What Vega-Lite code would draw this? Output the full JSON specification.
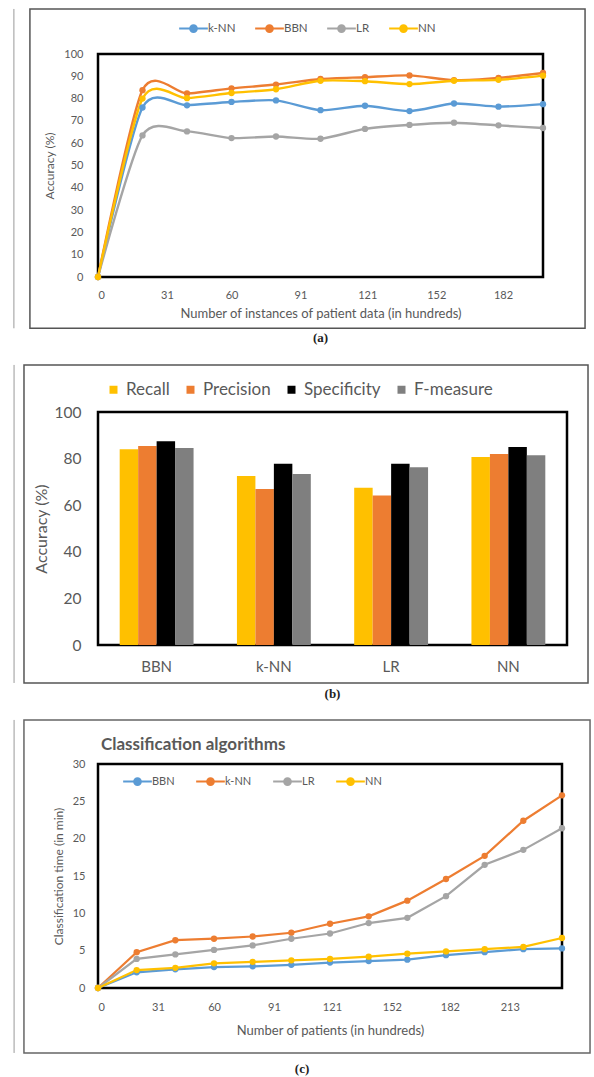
{
  "$schema": "https://vega.github.io/schema/vega-lite/v6.json",
  "background": "white",
  "padding": {"left": 12, "top": 6, "right": 2, "bottom": 0},
  "spacing": 15,
  "resolve": {"scale": {"color": "independent"}, "legend": {"color": "independent"}},
  "title": {"text": "(c)", "orient": "bottom", "anchor": "middle", "font": "Liberation Serif", "fontSize": 13, "fontWeight": "bold", "color": "#222222", "offset": 8},
  "datasets": {
    "acc": [
      {"n": 0, "algo": "k-NN", "acc": 0}, {"n": 20, "algo": "k-NN", "acc": 76}, {"n": 40, "algo": "k-NN", "acc": 77}, {"n": 60, "algo": "k-NN", "acc": 78.5}, {"n": 80, "algo": "k-NN", "acc": 79.2}, {"n": 100, "algo": "k-NN", "acc": 74.8}, {"n": 120, "algo": "k-NN", "acc": 76.8}, {"n": 140, "algo": "k-NN", "acc": 74.4}, {"n": 160, "algo": "k-NN", "acc": 77.8}, {"n": 180, "algo": "k-NN", "acc": 76.4}, {"n": 200, "algo": "k-NN", "acc": 77.5},
      {"n": 0, "algo": "BBN", "acc": 0}, {"n": 20, "algo": "BBN", "acc": 83.8}, {"n": 40, "algo": "BBN", "acc": 82.3}, {"n": 60, "algo": "BBN", "acc": 84.6}, {"n": 80, "algo": "BBN", "acc": 86.3}, {"n": 100, "algo": "BBN", "acc": 88.8}, {"n": 120, "algo": "BBN", "acc": 89.6}, {"n": 140, "algo": "BBN", "acc": 90.4}, {"n": 160, "algo": "BBN", "acc": 88.3}, {"n": 180, "algo": "BBN", "acc": 89.3}, {"n": 200, "algo": "BBN", "acc": 91.5},
      {"n": 0, "algo": "LR", "acc": 0}, {"n": 20, "algo": "LR", "acc": 63.5}, {"n": 40, "algo": "LR", "acc": 65.3}, {"n": 60, "algo": "LR", "acc": 62.3}, {"n": 80, "algo": "LR", "acc": 63}, {"n": 100, "algo": "LR", "acc": 62}, {"n": 120, "algo": "LR", "acc": 66.4}, {"n": 140, "algo": "LR", "acc": 68.2}, {"n": 160, "algo": "LR", "acc": 69.2}, {"n": 180, "algo": "LR", "acc": 68}, {"n": 200, "algo": "LR", "acc": 66.8},
      {"n": 0, "algo": "NN", "acc": 0}, {"n": 20, "algo": "NN", "acc": 80}, {"n": 40, "algo": "NN", "acc": 80.2}, {"n": 60, "algo": "NN", "acc": 82.5}, {"n": 80, "algo": "NN", "acc": 84.2}, {"n": 100, "algo": "NN", "acc": 88}, {"n": 120, "algo": "NN", "acc": 87.8}, {"n": 140, "algo": "NN", "acc": 86.5}, {"n": 160, "algo": "NN", "acc": 88}, {"n": 180, "algo": "NN", "acc": 88.4}, {"n": 200, "algo": "NN", "acc": 90.3}
    ],
    "bars": [
      {"algo": "BBN", "metric": "Recall", "value": 84}, {"algo": "BBN", "metric": "Precision", "value": 85.4}, {"algo": "BBN", "metric": "Specificity", "value": 87.5}, {"algo": "BBN", "metric": "F-measure", "value": 84.6},
      {"algo": "k-NN", "metric": "Recall", "value": 72.5}, {"algo": "k-NN", "metric": "Precision", "value": 67}, {"algo": "k-NN", "metric": "Specificity", "value": 77.8}, {"algo": "k-NN", "metric": "F-measure", "value": 73.4},
      {"algo": "LR", "metric": "Recall", "value": 67.5}, {"algo": "LR", "metric": "Precision", "value": 64.2}, {"algo": "LR", "metric": "Specificity", "value": 77.8}, {"algo": "LR", "metric": "F-measure", "value": 76.3},
      {"algo": "NN", "metric": "Recall", "value": 80.7}, {"algo": "NN", "metric": "Precision", "value": 82}, {"algo": "NN", "metric": "Specificity", "value": 85}, {"algo": "NN", "metric": "F-measure", "value": 81.4}
    ],
    "time": [
      {"n": 0, "algo": "BBN", "t": 0}, {"n": 20, "algo": "BBN", "t": 2.1}, {"n": 40, "algo": "BBN", "t": 2.5}, {"n": 60, "algo": "BBN", "t": 2.8}, {"n": 80, "algo": "BBN", "t": 2.9}, {"n": 100, "algo": "BBN", "t": 3.1}, {"n": 120, "algo": "BBN", "t": 3.4}, {"n": 140, "algo": "BBN", "t": 3.6}, {"n": 160, "algo": "BBN", "t": 3.8}, {"n": 180, "algo": "BBN", "t": 4.4}, {"n": 200, "algo": "BBN", "t": 4.8}, {"n": 220, "algo": "BBN", "t": 5.2}, {"n": 240, "algo": "BBN", "t": 5.3},
      {"n": 0, "algo": "k-NN", "t": 0}, {"n": 20, "algo": "k-NN", "t": 4.8}, {"n": 40, "algo": "k-NN", "t": 6.4}, {"n": 60, "algo": "k-NN", "t": 6.6}, {"n": 80, "algo": "k-NN", "t": 6.9}, {"n": 100, "algo": "k-NN", "t": 7.4}, {"n": 120, "algo": "k-NN", "t": 8.6}, {"n": 140, "algo": "k-NN", "t": 9.6}, {"n": 160, "algo": "k-NN", "t": 11.7}, {"n": 180, "algo": "k-NN", "t": 14.6}, {"n": 200, "algo": "k-NN", "t": 17.7}, {"n": 220, "algo": "k-NN", "t": 22.4}, {"n": 240, "algo": "k-NN", "t": 25.8},
      {"n": 0, "algo": "LR", "t": 0}, {"n": 20, "algo": "LR", "t": 3.9}, {"n": 40, "algo": "LR", "t": 4.5}, {"n": 60, "algo": "LR", "t": 5.1}, {"n": 80, "algo": "LR", "t": 5.7}, {"n": 100, "algo": "LR", "t": 6.6}, {"n": 120, "algo": "LR", "t": 7.3}, {"n": 140, "algo": "LR", "t": 8.7}, {"n": 160, "algo": "LR", "t": 9.4}, {"n": 180, "algo": "LR", "t": 12.3}, {"n": 200, "algo": "LR", "t": 16.5}, {"n": 220, "algo": "LR", "t": 18.5}, {"n": 240, "algo": "LR", "t": 21.4},
      {"n": 0, "algo": "NN", "t": 0}, {"n": 20, "algo": "NN", "t": 2.4}, {"n": 40, "algo": "NN", "t": 2.7}, {"n": 60, "algo": "NN", "t": 3.3}, {"n": 80, "algo": "NN", "t": 3.5}, {"n": 100, "algo": "NN", "t": 3.7}, {"n": 120, "algo": "NN", "t": 3.9}, {"n": 140, "algo": "NN", "t": 4.2}, {"n": 160, "algo": "NN", "t": 4.6}, {"n": 180, "algo": "NN", "t": 4.9}, {"n": 200, "algo": "NN", "t": 5.2}, {"n": 220, "algo": "NN", "t": 5.5}, {"n": 240, "algo": "NN", "t": 6.7}
    ]
  },
  "vconcat": [
    {
      "width": 445,
      "height": 223,
      "title": {"text": "(a)", "orient": "bottom", "font": "Liberation Serif", "fontSize": 13, "fontWeight": "bold", "color": "#222222", "offset": 3},
      "layer": [
        {
          "data": {"name": "acc"},
          "encoding": {
            "x": {"field": "n", "type": "quantitative", "scale": {"domain": [0, 200], "nice": false},
              "axis": {"values": [0, 31, 60, 91, 121, 152, 182], "title": "Number of instances of patient data (in hundreds)", "labelFontSize": 11, "titleFontSize": 13, "labelPadding": 12, "titlePadding": 7}},
            "y": {"field": "acc", "type": "quantitative", "scale": {"domain": [0, 100], "nice": false},
              "axis": {"values": [0, 10, 20, 30, 40, 50, 60, 70, 80, 90, 100], "title": "Accuracy (%)", "labelFontSize": 11, "titleFontSize": 12, "labelPadding": 15, "titlePadding": 7}},
            "color": {"field": "algo", "type": "nominal",
              "scale": {"domain": ["k-NN", "BBN", "LR", "NN"], "range": ["#5B9BD5", "#ED7D31", "#A5A5A5", "#FFC000"]},
              "legend": {"orient": "none", "legendX": 84, "legendY": -37, "direction": "horizontal", "title": null,
                "symbolType": "M-1.4,0H1.4M-0.33,0A0.33,0.33 0 1,0 0.33,0A0.33,0.33 0 1,0 -0.33,0", "symbolSize": 420, "symbolStrokeWidth": 2,
                "labelFontSize": 11.5, "columnPadding": 15, "labelOffset": 3}}
          },
          "layer": [
            {"mark": {"type": "line", "interpolate": "cardinal", "tension": 0.25, "strokeWidth": 2.4}},
            {"mark": {"type": "point", "filled": true, "size": 40, "opacity": 1}}
          ]
        },
        {
          "data": {"values": [{}]},
          "mark": {"type": "rect", "filled": false, "stroke": "#555555", "strokeWidth": 1.5, "clip": false},
          "encoding": {
            "x": {"datum": -30.6, "type": "quantitative", "scale": {"domain": [0, 200], "nice": false},
              "axis": {"values": [0, 31, 60, 91, 121, 152, 182], "title": "Number of instances of patient data (in hundreds)", "labelFontSize": 11, "titleFontSize": 13, "labelPadding": 12, "titlePadding": 7}},
            "x2": {"datum": 218.9},
            "y": {"datum": 120.2, "type": "quantitative", "scale": {"domain": [0, 100], "nice": false},
              "axis": {"values": [0, 10, 20, 30, 40, 50, 60, 70, 80, 90, 100], "title": "Accuracy (%)", "labelFontSize": 11, "titleFontSize": 12, "labelPadding": 15, "titlePadding": 7}},
            "y2": {"datum": -23}
          }
        },
        {
          "data": {"values": [{}]},
          "mark": {"type": "rule", "stroke": "#9A9A9A", "strokeWidth": 1, "clip": false},
          "encoding": {
            "x": {"datum": -37.8, "type": "quantitative", "scale": {"domain": [0, 200], "nice": false},
              "axis": {"values": [0, 31, 60, 91, 121, 152, 182], "title": "Number of instances of patient data (in hundreds)", "labelFontSize": 11, "titleFontSize": 13, "labelPadding": 12, "titlePadding": 7}},
            "y": {"datum": 120.2, "type": "quantitative", "scale": {"domain": [0, 100], "nice": false},
              "axis": {"values": [0, 10, 20, 30, 40, 50, 60, 70, 80, 90, 100], "title": "Accuracy (%)", "labelFontSize": 11, "titleFontSize": 12, "labelPadding": 15, "titlePadding": 7}},
            "y2": {"datum": -23}
          }
        }
      ]
    },
    {
      "width": 469,
      "height": 233,
      "title": {"text": "(b)", "orient": "bottom", "font": "Liberation Serif", "fontSize": 13, "fontWeight": "bold", "color": "#222222", "offset": 4},
      "resolve": {"scale": {"x": "independent"}, "axis": {"x": "independent"}},
      "layer": [
        {
          "data": {"name": "bars"},
          "mark": {"type": "bar"},
          "encoding": {
            "x": {"field": "algo", "type": "nominal", "sort": ["BBN", "k-NN", "LR", "NN"], "scale": {"paddingInner": 0.37, "paddingOuter": 0.185},
              "axis": {"title": null, "labelAngle": 0, "labelFontSize": 15, "labelPadding": 14}},
            "xOffset": {"field": "metric", "type": "nominal", "sort": ["Recall", "Precision", "Specificity", "F-measure"], "scale": {"paddingInner": 0, "paddingOuter": 0}},
            "y": {"field": "value", "type": "quantitative", "scale": {"domain": [0, 100], "nice": false},
              "axis": {"values": [0, 20, 40, 60, 80, 100], "title": "Accuracy (%)", "labelFontSize": 15.5, "titleFontSize": 16, "labelPadding": 17, "titlePadding": 5}},
            "color": {"field": "metric", "type": "nominal",
              "scale": {"domain": ["Recall", "Precision", "Specificity", "F-measure"], "range": ["#FFC000", "#ED7D31", "#000000", "#7F7F7F"]},
              "legend": {"orient": "none", "legendX": 7, "legendY": -31, "direction": "horizontal", "title": null,
                "symbolType": "square", "symbolSize": 64, "labelFontSize": 17, "columnPadding": 12, "labelOffset": 4}}
          }
        },
        {
          "data": {"values": [{}]},
          "mark": {"type": "rect", "filled": false, "stroke": "#555555", "strokeWidth": 1.5, "clip": false},
          "encoding": {
            "x": {"datum": -0.1578, "type": "quantitative", "scale": {"domain": [0, 1], "nice": false, "zero": false}, "axis": null},
            "x2": {"datum": 1.0448},
            "y": {"datum": 120.2, "type": "quantitative", "scale": {"domain": [0, 100], "nice": false},
              "axis": {"values": [0, 20, 40, 60, 80, 100], "title": "Accuracy (%)", "labelFontSize": 15.5, "titleFontSize": 16, "labelPadding": 17, "titlePadding": 5}},
            "y2": {"datum": -16.3}
          }
        },
        {
          "data": {"values": [{}]},
          "mark": {"type": "rule", "stroke": "#9A9A9A", "strokeWidth": 1, "clip": false},
          "encoding": {
            "x": {"datum": -0.179, "type": "quantitative", "scale": {"domain": [0, 1], "nice": false, "zero": false}, "axis": null},
            "y": {"datum": 120.2, "type": "quantitative", "scale": {"domain": [0, 100], "nice": false},
              "axis": {"values": [0, 20, 40, 60, 80, 100], "title": "Accuracy (%)", "labelFontSize": 15.5, "titleFontSize": 16, "labelPadding": 17, "titlePadding": 5}},
            "y2": {"datum": -16.3}
          }
        }
      ]
    },
    {
      "width": 464,
      "height": 224,
      "title": {"text": "Classification algorithms", "anchor": "start", "frame": "group", "dx": 3, "offset": -35, "font": "Lato", "fontSize": 17, "fontWeight": "bold", "color": "#595959"},
      "layer": [
        {
          "data": {"name": "time"},
          "encoding": {
            "x": {"field": "n", "type": "quantitative", "scale": {"domain": [0, 240], "nice": false},
              "axis": {"values": [0, 31, 60, 91, 121, 152, 182, 213], "title": "Number of patients (in hundreds)", "labelFontSize": 11, "titleFontSize": 13, "labelPadding": 13, "titlePadding": 12}},
            "y": {"field": "t", "type": "quantitative", "scale": {"domain": [0, 30], "nice": false},
              "axis": {"values": [0, 5, 10, 15, 20, 25, 30], "title": "Classification time (in min)", "labelFontSize": 11, "titleFontSize": 12, "labelPadding": 13, "titlePadding": 7}},
            "color": {"field": "algo", "type": "nominal",
              "scale": {"domain": ["BBN", "k-NN", "LR", "NN"], "range": ["#5B9BD5", "#ED7D31", "#A5A5A5", "#FFC000"]},
              "legend": {"orient": "none", "legendX": 28, "legendY": 6, "direction": "horizontal", "title": null,
                "symbolType": "M-1.4,0H1.4M-0.33,0A0.33,0.33 0 1,0 0.33,0A0.33,0.33 0 1,0 -0.33,0", "symbolSize": 420, "symbolStrokeWidth": 2,
                "labelFontSize": 11, "columnPadding": 17, "labelOffset": 3}}
          },
          "layer": [
            {"mark": {"type": "line", "strokeWidth": 2.2}},
            {"mark": {"type": "point", "filled": true, "size": 40, "opacity": 1}}
          ]
        },
        {
          "data": {"values": [{}]},
          "mark": {"type": "rect", "filled": false, "stroke": "#666666", "strokeWidth": 1.5, "clip": false},
          "encoding": {
            "x": {"datum": -38.3, "type": "quantitative", "scale": {"domain": [0, 240], "nice": false},
              "axis": {"values": [0, 31, 60, 91, 121, 152, 182, 213], "title": "Number of patients (in hundreds)", "labelFontSize": 11, "titleFontSize": 13, "labelPadding": 13, "titlePadding": 12}},
            "x2": {"datum": 254.5},
            "y": {"datum": 35.9, "type": "quantitative", "scale": {"domain": [0, 30], "nice": false},
              "axis": {"values": [0, 5, 10, 15, 20, 25, 30], "title": "Classification time (in min)", "labelFontSize": 11, "titleFontSize": 12, "labelPadding": 13, "titlePadding": 7}},
            "y2": {"datum": -8.7}
          }
        },
        {
          "data": {"values": [{}]},
          "mark": {"type": "rule", "stroke": "#9A9A9A", "strokeWidth": 1, "clip": false},
          "encoding": {
            "x": {"datum": -43.4, "type": "quantitative", "scale": {"domain": [0, 240], "nice": false},
              "axis": {"values": [0, 31, 60, 91, 121, 152, 182, 213], "title": "Number of patients (in hundreds)", "labelFontSize": 11, "titleFontSize": 13, "labelPadding": 13, "titlePadding": 12}},
            "y": {"datum": 35.9, "type": "quantitative", "scale": {"domain": [0, 30], "nice": false},
              "axis": {"values": [0, 5, 10, 15, 20, 25, 30], "title": "Classification time (in min)", "labelFontSize": 11, "titleFontSize": 12, "labelPadding": 13, "titlePadding": 7}},
            "y2": {"datum": -8.7}
          }
        }
      ]
    }
  ],
  "config": {
    "font": "Lato",
    "view": {"stroke": "#000000", "strokeWidth": 2.5},
    "axis": {"domain": false, "ticks": false, "grid": false, "labelColor": "#595959", "titleColor": "#595959", "titleFontWeight": "normal", "labelFont": "Lato", "titleFont": "Lato"},
    "legend": {"labelColor": "#595959", "labelFont": "Lato"}
  }
}
